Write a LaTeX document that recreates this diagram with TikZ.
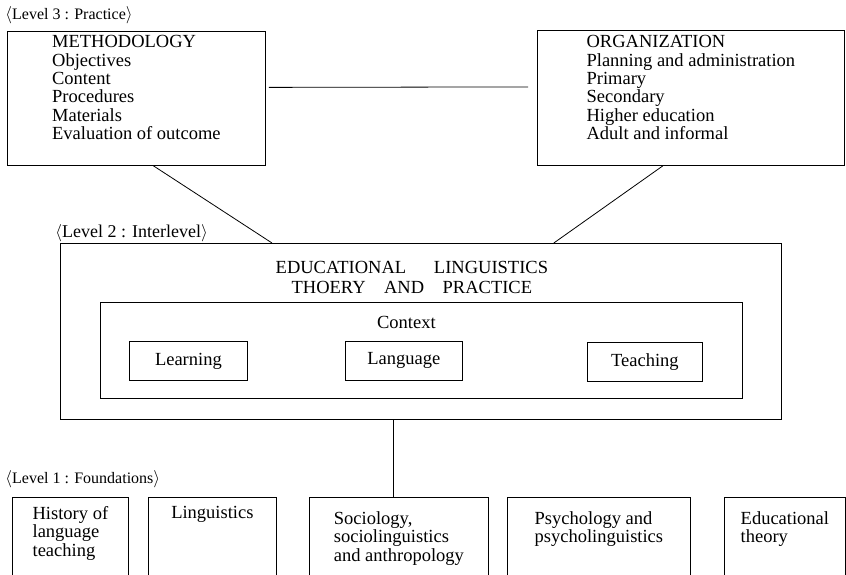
\documentclass[tikz,border=0pt]{standalone}
\usepackage{fontspec}
\setmainfont{Liberation Serif}
\usetikzlibrary{positioning}
\begin{document}
\begin{tikzpicture}[x=1pt,y=-1pt,line width=0.8pt,
    every node/.style={font=\fontsize{18.5}{18.4}\selectfont},
    pane/.style={draw,anchor=north west,inner sep=0pt},
    words/.style={align=left,inner sep=0pt,anchor=north},
    lvltag/.style={anchor=west,inner sep=0pt,font=\fontsize{16}{16}\selectfont}]
    \useasboundingbox (0,0) rectangle (846,575);
    \node[lvltag] (lev3) at (5,15) {$\langle$Level 3 : Practice$\rangle$};
    \node[pane,minimum width=258pt,minimum height=134pt] (meth) at (7,31) {};
    \node[words,below=4pt of meth.north] (meth-t) {METHODOLOGY\\Objectives\\Content\\Procedures\\Materials\\Evaluation of outcome};
    \node[pane,minimum width=307pt,minimum height=135pt] (org) at (537,30) {};
    \node[words,below=5pt of org.north] (org-t) {ORGANIZATION\\Planning and administration\\Primary\\Secondary\\Higher education\\Adult and informal};
    \node[lvltag,font=\fontsize{18}{18}\selectfont] (lev2) at (55,233) {$\langle$Level 2 : Interlevel$\rangle$};
    \node[pane,minimum width=721pt,minimum height=176pt] (elt) at (60,243) {};
    \node[words,align=center,below=18pt of elt.north,xshift=-9pt] (elt-t) {EDUCATIONAL\hspace{1.5em}LINGUISTICS\\[1.6pt]THOERY\quad AND\quad PRACTICE};
    \node[pane,minimum width=642pt,minimum height=96pt] (ctx) at (100,302) {};
    \node[words,below=14pt of ctx.north,xshift=-15pt] (ctx-t) {Context};
    \node[pane,minimum width=118pt,minimum height=39pt] (learn) at (129,341) {Learning};
    \node[pane,minimum width=117pt,minimum height=39pt] (lang) at (345,341) {Language};
    \node[pane,minimum width=115pt,minimum height=39pt] (teach) at (587,342) {Teaching};
    \node[lvltag] (lev1) at (5,479) {$\langle$Level 1 : Foundations$\rangle$};
    \node[pane,minimum width=116pt,minimum height=100pt] (hist) at (12,497) {};
    \node[words,below=9pt of hist.north] (hist-t) {History of\\language\\teaching};
    \node[pane,minimum width=128pt,minimum height=100pt] (ling) at (148,497) {};
    \node[words,below=9pt of ling.north] (ling-t) {Linguistics};
    \node[pane,minimum width=179pt,minimum height=100pt] (soc) at (309,497) {};
    \node[words,below=14pt of soc.north] (soc-t) {Sociology,\\sociolinguistics\\and anthropology};
    \node[pane,minimum width=183pt,minimum height=100pt] (psy) at (507,497) {};
    \node[words,below=14pt of psy.north] (psy-t) {Psychology and\\psycholinguistics};
    \node[pane,minimum width=121pt,minimum height=100pt] (edu) at (724,497) {};
    \node[words,below=14pt of edu.north] (edu-t) {Educational\\theory};
    \draw[shorten <=3pt,shorten >=9pt] ([yshift=11pt]meth.east) -- ([yshift=11pt]org.west);
    \draw ([xshift=17pt]meth.south) -- ([xshift=212pt]elt.north west);
    \draw ([xshift=-28pt]org.south) -- ([xshift=-228pt]elt.north east);
    \draw ([xshift=-6pt]soc.north |- elt.south) -- ([xshift=-6pt]soc.north);
\end{tikzpicture}
\end{document}
